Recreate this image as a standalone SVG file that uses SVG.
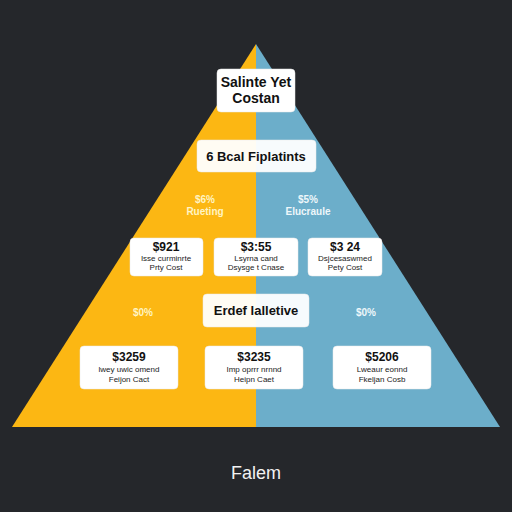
<svg xmlns="http://www.w3.org/2000/svg" width="512" height="512" viewBox="0 0 512 512">
<style>
.box{fill:#FFFFFF;stroke:#E8E8E8;stroke-width:0.5}
.t{font-family:"Liberation Sans",Arial,sans-serif;fill:#111;text-anchor:middle}
.h{font-size:14px;font-weight:bold}
.v{font-size:12px;font-weight:bold}
.s{font-size:8px;fill:#222}
.py{font-family:"Liberation Sans",Arial,sans-serif;text-anchor:middle;font-size:10px;font-weight:bold}
</style>
<rect width="512" height="512" fill="#25272B"/>
<g id="pyramid">
<polygon points="256,44 256,427 12,427" fill="#FCB713"/>
<polygon points="256,44 256,427 500,427" fill="#6CAECA"/>
</g>
<g id="connectors"></g>
<g id="top">
<rect class="box" x="217" y="69" width="78" height="43" rx="4"/>
<text class="t h" x="256" y="87">Salinte Yet</text>
<text class="t h" x="256" y="103">Costan</text>
</g>
<g id="tier2">
<rect class="box" x="197" y="140" width="119" height="32" rx="4" fill-opacity="0.95"/>
<text class="t" x="256" y="161" font-size="13" font-weight="bold">6 Bcal Fiplatints</text>
</g>
<g id="lbl-left">
<text class="py" x="205" y="203" fill="#FFF4C4">$6%</text>
<text class="py" x="205" y="215" fill="#FFF4C4">Rueting</text>
</g>
<g id="lbl-right">
<text class="py" x="308" y="203" fill="#EEF7FA">$5%</text>
<text class="py" x="308" y="215" fill="#EEF7FA">Elucraule</text>
</g>
<g id="b1">
<rect class="box" x="130" y="238" width="73" height="38" rx="4"/>
<text class="t v" x="166" y="251">$921</text>
<text class="t s" x="166" y="261">Isse curminrte</text>
<text class="t s" x="166" y="270">Prty Cost</text>
</g>
<g id="b2">
<rect class="box" x="214" y="238" width="84" height="38" rx="4"/>
<text class="t v" x="256" y="251">$3:55</text>
<text class="t s" x="256" y="261">Lsyrna cand</text>
<text class="t s" x="256" y="270">Dsysge t Cnase</text>
</g>
<g id="b3">
<rect class="box" x="308" y="238" width="74" height="38" rx="4"/>
<text class="t v" x="345" y="251">$3 24</text>
<text class="t s" x="345" y="261">Dsjcesaswmed</text>
<text class="t s" x="345" y="270">Pety Cost</text>
</g>
<g id="lbl-l2">
<text class="py" x="143" y="316" fill="#FFF4C4">$0%</text>
</g>
<g id="lbl-r2">
<text class="py" x="366" y="316" fill="#EEF7FA">$0%</text>
</g>
<g id="tier4">
<rect class="box" x="203" y="294" width="106" height="33" rx="4" fill-opacity="0.95"/>
<text class="t" x="256" y="315" font-size="13" font-weight="bold">Erdef lalletive</text>
</g>
<g id="c1">
<rect class="box" x="80" y="346" width="98" height="43" rx="4"/>
<text class="t v" x="129" y="361">$3259</text>
<text class="t s" x="129" y="372">lwey uwic omend</text>
<text class="t s" x="129" y="382">Feijon Cact</text>
</g>
<g id="c2">
<rect class="box" x="205" y="346" width="98" height="43" rx="4"/>
<text class="t v" x="254" y="361">$3235</text>
<text class="t s" x="254" y="372">Imp oprrr nrnnd</text>
<text class="t s" x="254" y="382">Heipn Caet</text>
</g>
<g id="c3">
<rect class="box" x="333" y="346" width="98" height="43" rx="4"/>
<text class="t v" x="382" y="361">$5206</text>
<text class="t s" x="382" y="372">Lweaur eonnd</text>
<text class="t s" x="382" y="382">Fkeljan Cosb</text>
</g>
<g id="footer">
<text x="256" y="479" font-family="'Liberation Sans',Arial,sans-serif" font-size="18" fill="#F2F2F2" text-anchor="middle">Falem</text>
</g>
</svg>
